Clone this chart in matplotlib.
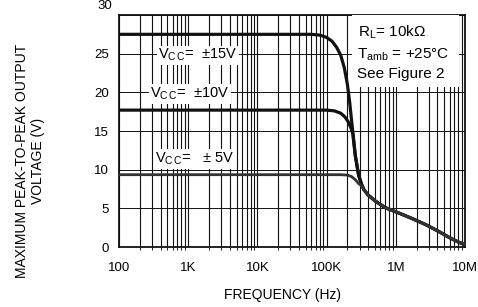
import matplotlib
matplotlib.use("Agg")
import matplotlib.pyplot as plt
from matplotlib.patches import Rectangle

plt.rcParams['font.family'] = ['Liberation Sans', 'DejaVu Sans']
plt.rcParams['mathtext.default'] = 'regular'

# shared roll-off tail (Hz, V)
tail_f = [347e3, 400e3, 513e3, 700e3, 1.1e6, 1.7e6, 2.7e6, 4e6, 6e6, 8.2e6, 10e6]
tail_v = [7.4, 6.7, 5.9, 5.1, 4.4, 3.7, 2.9, 2.1, 1.2, 0.6, 0.3]

# Vcc = +/-15V
f15 = [100, 60e3, 80e3, 100e3, 120e3, 140e3, 160e3, 180e3, 200e3, 215e3, 235e3,
       260e3, 290e3, 320e3] + tail_f
v15 = [27.5, 27.5, 27.4, 27.1, 26.6, 25.8, 24.8, 23.2, 21.0, 18.8, 15.5,
       11.8, 9.3, 8.1] + tail_v

# Vcc = +/-10V
f10 = [100, 100e3, 130e3, 160e3, 185e3, 205e3, 225e3, 240e3, 260e3, 290e3, 320e3] + tail_f
v10 = [17.7, 17.7, 17.6, 17.3, 16.8, 16.2, 15.4, 14.6, 11.8, 9.3, 8.1] + tail_v

# Vcc = +/-5V
f5 = [100, 160e3, 200e3, 230e3, 260e3, 290e3, 320e3] + tail_f
v5 = [9.35, 9.35, 9.3, 9.1, 8.7, 8.2, 7.9] + tail_v

x_ticks = [100, 1e3, 1e4, 1e5, 1e6, 1e7]
x_labels = ['100', '1K', '10K', '100K', '1M', '10M']
y_ticks = [0, 5, 10, 15, 20, 25, 30]

fig = plt.figure(figsize=(4.78, 3.07), dpi=100)
ax = fig.add_axes([119 / 478, 1 - 247 / 307, 346 / 478, 232 / 307])

ax.set_xscale('log')
ax.set_xlim(100, 1e7)
ax.set_ylim(0, 30)

# grid
ax.grid(True, which='both', axis='x', color='#111111', linewidth=0.8)
ax.grid(True, which='major', axis='y', color='#111111', linewidth=0.7)
ax.set_axisbelow(True)

ax.plot(f15, v15, color='#111111', linewidth=2.3, zorder=4)
ax.plot(f10, v10, color='#111111', linewidth=2.3, zorder=4)
ax.plot(f5, v5, color='#333333', linewidth=2.0, zorder=4)

ax.set_xticks(x_ticks)
ax.set_xticklabels(x_labels)
ax.set_yticks(y_ticks)
# the top label sits above the frame in the original, drawn separately below
ax.set_yticklabels([str(v) for v in y_ticks[:-1]] + [''])
ax.tick_params(axis='both', length=0, labelsize=9.5)
ax.tick_params(axis='x', pad=11)
ax.tick_params(axis='y', pad=7)
ax.annotate(str(y_ticks[-1]), xy=(0, y_ticks[-1]), xycoords=('axes fraction', 'data'),
            xytext=(-5, 6.5), textcoords='offset points', ha='right', va='center', fontsize=9.5)
for spine in ax.spines.values():
    spine.set_linewidth(1.3)
    spine.set_color('#111111')

# curve labels
bbox = dict(facecolor='white', edgecolor='none', pad=1.0)
ax.text(366, 24.3, r'V$_{C\,C}$=  ±15V', fontsize=10.5, va='baseline', ha='left', bbox=bbox, zorder=5)
ax.text(281, 19.3, r'V$_{C\,C}$=  ±10V', fontsize=10.5, va='baseline', ha='left', bbox=bbox, zorder=5)
ax.text(331, 10.9, r'V$_{C\,C}$=   ± 5V', fontsize=10.5, va='baseline', ha='left', bbox=bbox, zorder=5)

# conditions box
ax.add_patch(Rectangle((0.673, 0.688), 0.31, 0.312, transform=ax.transAxes,
                       facecolor='white', edgecolor='none', zorder=3))
ax.text(0.691, 27.2, r'R$_L$= 10kΩ', transform=ax.get_yaxis_transform(), fontsize=11,
        va='baseline', zorder=5)
ax.text(0.688, 24.4, r'T$_{amb}$ = +25°C', transform=ax.get_yaxis_transform(), fontsize=11,
        va='baseline', zorder=5)
ax.text(0.688, 21.8, 'See Figure 2', transform=ax.get_yaxis_transform(), fontsize=11,
        va='baseline', zorder=5)

fig.text(283 / 478, 1 - 295 / 307, 'FREQUENCY (Hz)', fontsize=10, ha='center', va='center')
fig.text(30 / 478, 1 - 161 / 307, 'MAXIMUM PEAK-TO-PEAK OUTPUT\nVOLTAGE (V)', fontsize=10,
         ha='center', va='center', rotation=90, linespacing=1.15)

fig.savefig('out.png', dpi=100)
